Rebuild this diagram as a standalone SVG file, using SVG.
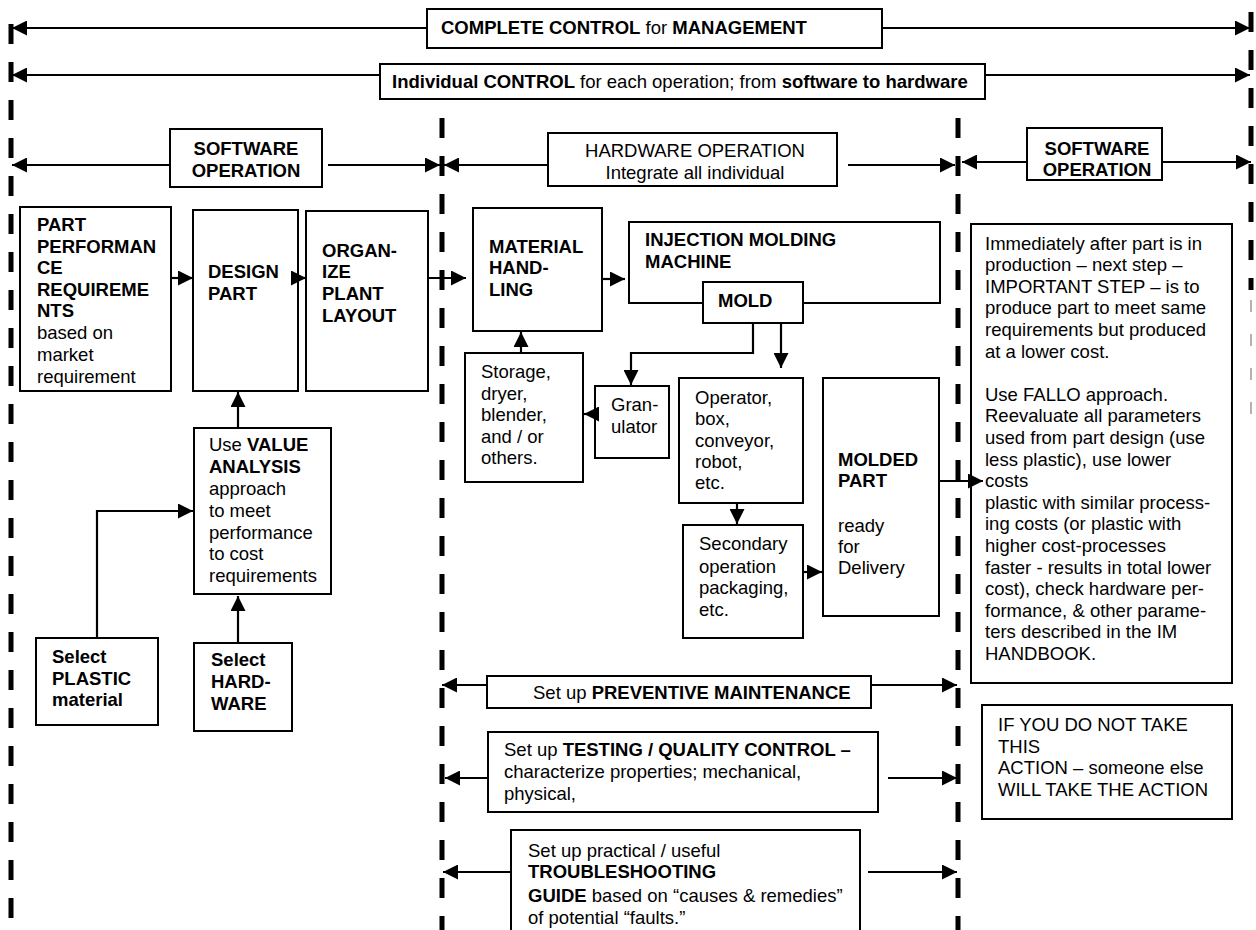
<svg xmlns="http://www.w3.org/2000/svg" width="1256" height="930" viewBox="0 0 1256 930">
<style>
text{font-family:"Liberation Sans",Arial,sans-serif;font-size:18.5px;fill:#000}
.b{font-weight:bold}
.box{fill:#fff;stroke:#000;stroke-width:2}
.arr{fill:none;stroke:#000;stroke-width:2.2;marker-end:url(#ah)}
.dash{fill:none;stroke:#000;stroke-width:5;stroke-dasharray:20 18}
</style>
<defs>
<marker id="ah" viewBox="0 0 10 10" refX="10" refY="5" markerWidth="18" markerHeight="15" markerUnits="userSpaceOnUse" orient="auto"><path d="M0,0 L10,5 L0,10 z" fill="#000"/></marker>
</defs>
<rect width="1256" height="930" fill="#fff"/>
<g id="dividers">
<path class="dash" d="M11,12 V930" stroke-dashoffset="26"/>
<path class="dash" d="M442,118 V930"/>
<path class="dash" d="M958,118 V930"/>
<path class="dash" d="M1251,12 V290"/>
<path d="M1251,300 V420" fill="none" stroke="#999" stroke-width="1.5" stroke-dasharray="12 22"/>
</g>
<g id="n-complete">
<rect class="box" x="427" y="9" width="455" height="39"/>
<text x="441" y="34"><tspan class="b">COMPLETE CONTROL</tspan> for  <tspan class="b">MANAGEMENT</tspan></text>
</g>
<g id="n-individual">
<rect class="box" x="380" y="64" width="605" height="35"/>
<text x="392" y="88"><tspan class="b">Individual CONTROL</tspan> for each operation; from <tspan class="b">software to hardware</tspan></text>
</g>
<g id="n-sw1">
<rect class="box" x="170" y="129" width="152" height="58"/>
<text class="b" x="246" y="155" text-anchor="middle">SOFTWARE</text>
<text class="b" x="246" y="177" text-anchor="middle">OPERATION</text>
</g>
<g id="n-hw">
<rect class="box" x="548" y="133" width="289" height="53"/>
<text x="695" y="157" text-anchor="middle">HARDWARE OPERATION</text>
<text x="695" y="179" text-anchor="middle">Integrate all individual</text>
</g>
<g id="n-sw2">
<rect class="box" x="1027" y="128" width="135" height="52"/>
<text class="b" x="1097" y="155" text-anchor="middle">SOFTWARE</text>
<text class="b" x="1097" y="176" text-anchor="middle">OPERATION</text>
</g>
<g id="n-part">
<rect class="box" x="20" y="207" width="151" height="184"/>
<text class="b" x="37" y="231">PART</text>
<text class="b" x="37" y="253">PERFORMAN</text>
<text class="b" x="37" y="274">CE</text>
<text class="b" x="37" y="296">REQUIREME</text>
<text class="b" x="37" y="317">NTS</text>
<text x="37" y="339">based on</text>
<text x="37" y="361">market</text>
<text x="37" y="383">requirement</text>
</g>
<g id="n-design">
<rect class="box" x="193" y="210" width="105" height="181"/>
<text class="b" x="208" y="278">DESIGN</text>
<text class="b" x="208" y="300">PART</text>
</g>
<g id="n-organize">
<rect class="box" x="306" y="211" width="122" height="180"/>
<text class="b" x="322" y="257">ORGAN-</text>
<text class="b" x="322" y="278">IZE</text>
<text class="b" x="322" y="300">PLANT</text>
<text class="b" x="322" y="322">LAYOUT</text>
</g>
<g id="n-value">
<rect class="box" x="194" y="428" width="137" height="166"/>
<text x="209" y="451">Use <tspan class="b">VALUE</tspan></text>
<text class="b" x="209" y="473">ANALYSIS</text>
<text x="209" y="495">approach</text>
<text x="209" y="517">to meet</text>
<text x="209" y="539">performance</text>
<text x="209" y="560">to cost</text>
<text x="209" y="582">requirements</text>
</g>
<g id="n-plastic">
<rect class="box" x="36" y="638" width="122" height="87"/>
<text class="b" x="52" y="663">Select</text>
<text class="b" x="52" y="685">PLASTIC</text>
<text class="b" x="52" y="706">material</text>
</g>
<g id="n-hardware">
<rect class="box" x="194" y="643" width="98" height="88"/>
<text class="b" x="211" y="666">Select</text>
<text class="b" x="211" y="688">HARD-</text>
<text class="b" x="211" y="710">WARE</text>
</g>
<g id="n-material">
<rect class="box" x="473" y="208" width="129" height="123"/>
<text class="b" x="489" y="253">MATERIAL</text>
<text class="b" x="489" y="274">HAND-</text>
<text class="b" x="489" y="296">LING</text>
</g>
<g id="n-injection">
<rect class="box" x="629" y="222" width="311" height="81"/>
<text class="b" x="645" y="246">INJECTION MOLDING</text>
<text class="b" x="645" y="268">MACHINE</text>
</g>
<g id="n-mold">
<rect class="box" x="703" y="282" width="100" height="41"/>
<text class="b" x="718" y="307">MOLD</text>
</g>
<g id="n-storage">
<rect class="box" x="465" y="353" width="118" height="129"/>
<text x="481" y="378">Storage,</text>
<text x="481" y="400">dryer,</text>
<text x="481" y="421">blender,</text>
<text x="481" y="443">and / or</text>
<text x="481" y="464">others.</text>
</g>
<g id="n-granulator">
<rect class="box" x="595" y="386" width="74" height="72"/>
<text x="611" y="411">Gran-</text>
<text x="611" y="433">ulator</text>
</g>
<g id="n-operator">
<rect class="box" x="679" y="378" width="124" height="125"/>
<text x="695" y="404">Operator,</text>
<text x="695" y="425">box,</text>
<text x="695" y="447">conveyor,</text>
<text x="695" y="468">robot,</text>
<text x="695" y="489">etc.</text>
</g>
<g id="n-secondary">
<rect class="box" x="683" y="525" width="120" height="113"/>
<text x="699" y="550">Secondary</text>
<text x="699" y="573">operation</text>
<text x="699" y="594">packaging,</text>
<text x="699" y="616">etc.</text>
</g>
<g id="n-molded">
<rect class="box" x="823" y="378" width="116" height="238"/>
<text class="b" x="838" y="466">MOLDED</text>
<text class="b" x="838" y="487">PART</text>
<text x="838" y="532">ready</text>
<text x="838" y="553">for</text>
<text x="838" y="574">Delivery</text>
</g>
<g id="n-lowercost">
<rect class="box" x="971" y="224" width="261" height="459"/>
<text x="985" y="249.5">Immediately after part is in</text>
<text x="985" y="271.1">production – next step –</text>
<text x="985" y="292.7">IMPORTANT STEP – is to</text>
<text x="985" y="314.3">produce part to meet same</text>
<text x="985" y="335.9">requirements but produced</text>
<text x="985" y="357.5">at a lower cost.</text>
<text x="985" y="400.7">Use FALLO approach.</text>
<text x="985" y="422.3">Reevaluate all parameters</text>
<text x="985" y="443.9">used from part design (use</text>
<text x="985" y="465.5">less plastic), use lower</text>
<text x="985" y="487.1">costs</text>
<text x="985" y="508.7">plastic with similar process-</text>
<text x="985" y="530.3">ing costs (or plastic with</text>
<text x="985" y="551.9">higher cost-processes</text>
<text x="985" y="573.5">faster - results in total lower</text>
<text x="985" y="595.1">cost), check hardware per-</text>
<text x="985" y="616.7">formance, &amp; other parame-</text>
<text x="985" y="638.3">ters described in the IM</text>
<text x="985" y="659.9">HANDBOOK.</text>
</g>
<g id="n-ifyou">
<rect class="box" x="982" y="705" width="250" height="114"/>
<text x="998" y="731">IF YOU DO NOT TAKE</text>
<text x="998" y="753">THIS</text>
<text x="998" y="774">ACTION – someone else</text>
<text x="998" y="796">WILL TAKE THE ACTION</text>
</g>
<g id="n-preventive">
<rect class="box" x="487" y="676" width="384" height="32"/>
<text x="533" y="699">Set up <tspan class="b">PREVENTIVE MAINTENANCE</tspan></text>
</g>
<g id="n-testing">
<rect class="box" x="488" y="732" width="390" height="80"/>
<text x="504" y="756">Set up <tspan class="b">TESTING / QUALITY CONTROL –</tspan></text>
<text x="504" y="778">characterize properties; mechanical,</text>
<text x="504" y="800">physical,</text>
</g>
<g id="n-trouble">
<path class="box" d="M511,935 V830 H860 V935"/>
<text x="528" y="857">Set up practical / useful</text>
<text class="b" x="528" y="878">TROUBLESHOOTING</text>
<text x="528" y="902"><tspan class="b">GUIDE</tspan> based on “causes &amp; remedies”</text>
<text x="528" y="924">of potential “faults.”</text>
</g>
<g id="connectors">
<path class="arr" d="M427,28 H12"/>
<path class="arr" d="M882,28 H1250"/>
<path class="arr" d="M380,75 H12"/>
<path class="arr" d="M985,75 H1250"/>
<path class="arr" d="M170,165 H12"/>
<path class="arr" d="M328,165 H440"/>
<path class="arr" d="M548,165 H444"/>
<path class="arr" d="M848,165 H955"/>
<path class="arr" d="M1027,162 H962"/>
<path class="arr" d="M1162,162 H1251"/>
<path class="arr" d="M171,278 H193"/>
<path class="arr" d="M298,278 H306"/>
<path class="arr" d="M428,278 H466"/>
<path class="arr" d="M602,279 H625"/>
<path class="arr" d="M238,428 V392"/>
<path class="arr" d="M97,638 V511 H193"/>
<path class="arr" d="M238,643 V596"/>
<path class="arr" d="M521,353 V332"/>
<path class="arr" d="M597,414 H584"/>
<path class="arr" d="M753,323 V353 H631 V385"/>
<path class="arr" d="M781,323 V368"/>
<path class="arr" d="M737,503 V524"/>
<path class="arr" d="M803,572 H822"/>
<path class="arr" d="M939,481 H983"/>
<path class="arr" d="M487,685 H442"/>
<path class="arr" d="M871,685 H957"/>
<path class="arr" d="M488,778 H445"/>
<path class="arr" d="M888,778 H957"/>
<path class="arr" d="M511,872 H443"/>
<path class="arr" d="M868,872 H957"/>
</g>
</svg>
